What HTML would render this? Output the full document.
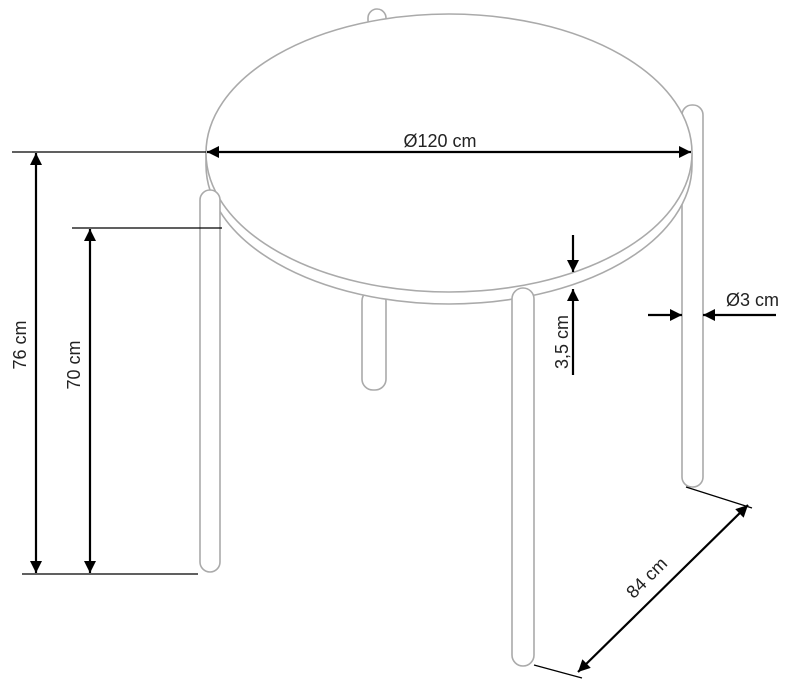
<!DOCTYPE html>
<html><head><style>body{margin:0;background:#fff}svg{display:block}</style></head><body>
<svg width="800" height="682" viewBox="0 0 800 682" xmlns="http://www.w3.org/2000/svg" font-family="Liberation Sans, sans-serif">
<defs>
<marker id="a" viewBox="0 0 10 10" refX="10" refY="5" markerWidth="17" markerHeight="12" markerUnits="userSpaceOnUse" orient="auto-start-reverse"><path d="M0,0L10,5L0,10z" fill="#000"/></marker>
</defs>
<g fill="#fff" stroke="#aaa" stroke-width="1.6">
<rect x="368" y="9" width="18" height="20" rx="9"/>
<rect x="362" y="290" width="24" height="100" rx="11"/>
<rect x="682" y="105" width="21" height="382" rx="10"/>
<path d="M206,153 L206,165 A243,139 0 0 0 692,165 L692,153"/>
<ellipse cx="449" cy="153" rx="243" ry="139"/>
<rect x="200" y="190" width="20" height="382" rx="10"/>
<rect x="512" y="288" width="22" height="378" rx="11"/>
</g>
<g stroke="#000" stroke-width="1.2" fill="none">
<line x1="12" y1="152" x2="206" y2="152"/>
<line x1="22" y1="574" x2="198" y2="574"/>
<line x1="72" y1="228" x2="222" y2="228"/>
<line x1="686" y1="487" x2="752" y2="508"/>
<line x1="534" y1="665" x2="582" y2="678"/>
</g>
<g stroke="#000" stroke-width="2.2" fill="none">
<line x1="36" y1="153" x2="36" y2="573" marker-start="url(#a)" marker-end="url(#a)"/>
<line x1="90" y1="229" x2="90" y2="573" marker-start="url(#a)" marker-end="url(#a)"/>
<line x1="207" y1="152" x2="691" y2="152" marker-start="url(#a)" marker-end="url(#a)"/>
<line x1="573" y1="235" x2="573" y2="272" marker-end="url(#a)"/>
<line x1="573" y1="375" x2="573" y2="289" marker-end="url(#a)"/>
<line x1="648" y1="315" x2="682" y2="315" marker-end="url(#a)"/>
<line x1="776" y1="315" x2="703" y2="315" marker-end="url(#a)"/>
<line x1="578" y1="672" x2="748" y2="505" marker-start="url(#a)" marker-end="url(#a)"/>
</g>
<g fill="#222" font-size="18">
<text x="440" y="147" text-anchor="middle">Ø120 cm</text>
<text x="726" y="306">Ø3 cm</text>
<text transform="translate(26,345) rotate(-90)" text-anchor="middle">76 cm</text>
<text transform="translate(80,365) rotate(-90)" text-anchor="middle">70 cm</text>
<text transform="translate(568,342) rotate(-90)" text-anchor="middle">3,5 cm</text>
<text transform="translate(651,582) rotate(-45)" text-anchor="middle">84 cm</text>
</g>
</svg>
</body></html>
